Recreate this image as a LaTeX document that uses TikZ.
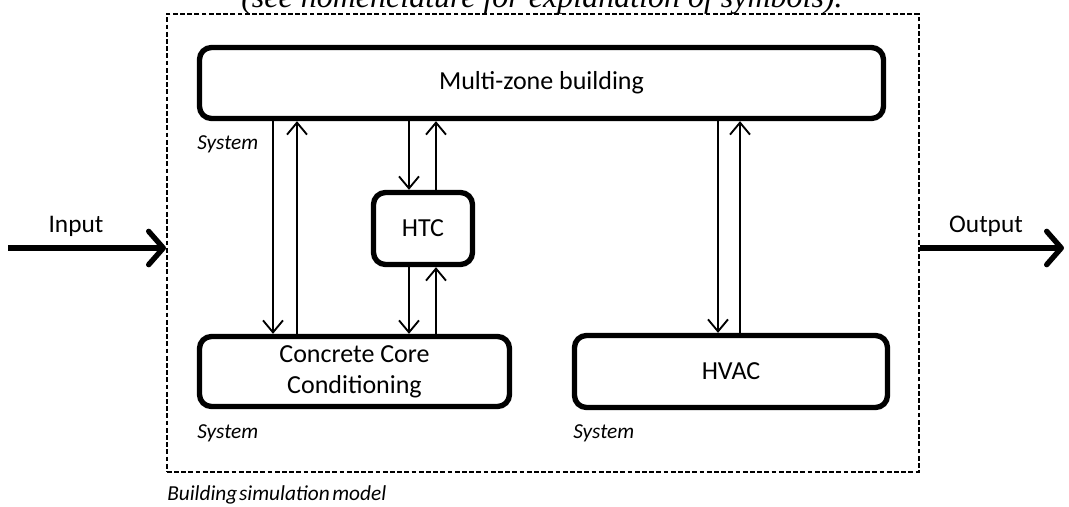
\documentclass[tikz,border=0pt]{standalone}
\usepackage{fontspec}
\setmainfont{Carlito}
\newfontfamily\capserif{Liberation Serif}
\usetikzlibrary{arrows.meta}
\begin{document}
\begin{tikzpicture}[x=0.75pt,y=-0.75pt,
  blk/.style={draw=black, line width=4pt, rounded corners=9pt, inner sep=0pt,
    font=\fontsize{19.5}{22}\selectfont, align=center},
  thinarr/.style={draw=black, line width=1.4pt, -{Straight Barb[length=9pt,width=15pt,line width=1.4pt]}},
  bigarr/.style={draw=black, line width=4pt, -{Straight Barb[length=11pt,width=25pt,line width=4pt,round]}},
  lbl/.style={font=\fontsize{19}{22}\selectfont, inner sep=0pt},
  sys/.style={font=\fontsize{16}{18}\selectfont\itshape, inner sep=0pt, anchor=base west},
  outer/.style={draw=black, line width=1.2pt, dash pattern=on 3.6pt off 1.8pt, inner sep=0pt}
]
\useasboundingbox (0,0) rectangle (1069,506);
% caption cut at top
\node[font=\fontsize{24}{28}\capserif\itshape, anchor=base, inner sep=0pt] (cap) at (542,8) {(see nomenclature for explanation of symbols).};
% dashed model boundary
\node[outer, minimum width=564pt, minimum height=343.5pt, anchor=north west] (model) at (166,13) {};
% blocks
\node[blk, minimum width=513pt, minimum height=53.25pt] (mz) at (541.5,83) {Multi-zone building};
\node[blk, minimum width=74.25pt, minimum height=54pt] (htc) at (423,228.5) {HTC};
\node[blk, minimum width=232.5pt, minimum height=52.5pt] (ccc) at (354.5,371.5) {Concrete Core\\[1pt]Conditioning};
\node[blk, minimum width=234.75pt, minimum height=54pt] (hvac) at (731,371.5) {HVAC};
% x positions of connectors
\coordinate (xa) at (273,0);
\coordinate (xb) at (297,0);
\coordinate (xc) at (409,0);
\coordinate (xd) at (436,0);
\coordinate (xe) at (718,0);
\coordinate (xf) at (740,0);
% connectors
\draw[thinarr] (mz.south -| xa) -- (ccc.north -| xa);
\draw[thinarr] (ccc.north -| xb) -- (mz.south -| xb);
\draw[thinarr] (mz.south -| xc) -- (htc.north -| xc);
\draw[thinarr] (htc.north -| xd) -- (mz.south -| xd);
\draw[thinarr] (htc.south -| xc) -- (ccc.north -| xc);
\draw[thinarr] (ccc.north -| xd) -- (htc.south -| xd);
\draw[thinarr] (mz.south -| xe) -- (hvac.north -| xe);
\draw[thinarr] (hvac.north -| xf) -- (mz.south -| xf);
% input / output
\coordinate (inbeg) at (8,248);
\coordinate (outend) at (1064,248);
\draw[bigarr] (inbeg) -- (inbeg -| model.west);
\draw[bigarr] (outend -| model.east) -- (outend);
\node[lbl, anchor=base] (inlbl) at (76,232) {Input};
\node[lbl, anchor=base] (outlbl) at (986,232) {Output};
% system labels
\node[sys] (s1) at (197,150) {System};
\node[sys] (s2) at (197,438) {System};
\node[sys] (s3) at (573,438) {System};
\node[sys] (bsm) at (167,500) {Building\hspace{0.08em}simulation\hspace{0.12em}model};
\end{tikzpicture}
\end{document}
